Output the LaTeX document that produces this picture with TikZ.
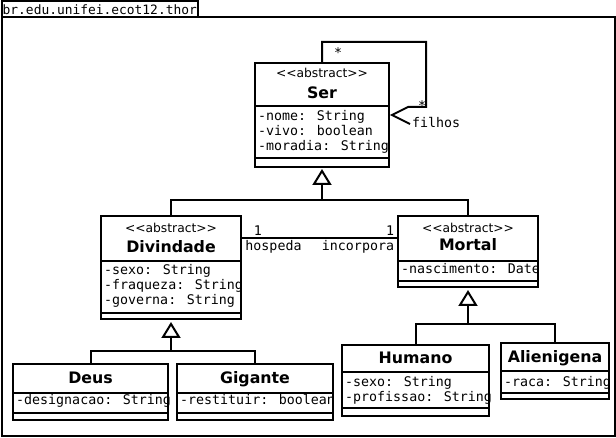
\documentclass[tikz,border=0pt]{standalone}
\usepackage{fontspec}
\setmainfont{DejaVu Sans}
\newfontfamily\umlmono{DejaVu Sans Mono}
\usetikzlibrary{arrows.meta}
\newcommand\umlstereo{<\kern0pt<abstract>\kern0pt>}
\tikzset{
 ln/.style={line width=2pt},
 cls/.style={draw, line width=2pt, anchor=north west, inner sep=0pt, outer sep=0pt, fill=white},
 attr/.style={anchor=base west, inner sep=0pt, font=\umlmono\fontsize{13.3}{15}\selectfont},
 lbl/.style={anchor=base, inner sep=0pt, font=\umlmono\fontsize{13.3}{15}\selectfont},
 cname/.style={anchor=base, inner sep=0pt, font=\fontsize{15.8}{18}\selectfont\bfseries},
 stereo/.style={anchor=base, inner sep=0pt, font=\fontsize{12.3}{15}\selectfont},
 gen/.style={line width=2pt, -{Triangle[open, length=16pt, width=19pt]}},
}
\begin{document}
\begin{tikzpicture}[x=1pt,y=-1pt]
\useasboundingbox (0,0) rectangle (616,438);
\fill[white] (0,0) rectangle (616,438);
% package frame
\node[cls, minimum width=613pt, minimum height=419pt] (pkg) at (1.5,17) {};
\node[attr, font=\umlmono\fontsize{12.9}{15}\selectfont] (pkgname) at (2.5,15) {br.edu.unifei.ecot12.thor};
\node[cls, fill=none, minimum width=196pt, minimum height=16pt] (tab) at (1.5,1) {};

% Ser
\node[cls, minimum width=134pt, minimum height=104pt] (ser) at (255,63) {};
\draw[ln] ([yshift=-43pt]ser.north west) -- ([yshift=-43pt]ser.north east);
\draw[ln] ([yshift=-95pt]ser.north west) -- ([yshift=-95pt]ser.north east);
\node[stereo] (serst) at (322,77.5) {\umlstereo};
\node[cname] (sername) at (322,99) {Ser};
\node[attr] (sera1) at (258,121) {-nome: String};
\node[attr] (sera2) at (258,136) {-vivo: boolean};
\node[attr] (sera3) at (258,151) {-moradia: String};

% Divindade
\node[cls, minimum width=140pt, minimum height=103pt] (div) at (101,216) {};
\draw[ln] ([yshift=-45pt]div.north west) -- ([yshift=-45pt]div.north east);
\draw[ln] ([yshift=-97pt]div.north west) -- ([yshift=-97pt]div.north east);
\node[stereo] (divst) at (171,232.5) {\umlstereo};
\node[cname] (divname) at (171,252.5) {Divindade};
\node[attr] (diva1) at (104,275) {-sexo: String};
\node[attr] (diva2) at (104,290) {-fraqueza: String};
\node[attr] (diva3) at (104,305) {-governa: String};

% Mortal
\node[cls, minimum width=140pt, minimum height=71pt] (mortal) at (398,216) {};
\draw[ln] ([yshift=-45pt]mortal.north west) -- ([yshift=-45pt]mortal.north east);
\draw[ln] ([yshift=-65pt]mortal.north west) -- ([yshift=-65pt]mortal.north east);
\node[stereo] (mortst) at (468,232.5) {\umlstereo};
\node[cname] (mortname) at (468,251) {Mortal};
\node[attr] (morta1) at (401,274) {-nascimento: Date};

% Deus
\node[cls, minimum width=155pt, minimum height=56pt] (deus) at (13,364) {};
\draw[ln] ([yshift=-29pt]deus.north west) -- ([yshift=-29pt]deus.north east);
\draw[ln] ([yshift=-49pt]deus.north west) -- ([yshift=-49pt]deus.north east);
\node[cname] (deusname) at (90.5,384) {Deus};
\node[attr] (deusa1) at (16,404) {-designacao: String};

% Gigante
\node[cls, minimum width=156pt, minimum height=56pt] (gig) at (177,364) {};
\draw[ln] ([yshift=-29pt]gig.north west) -- ([yshift=-29pt]gig.north east);
\draw[ln] ([yshift=-49pt]gig.north west) -- ([yshift=-49pt]gig.north east);
\node[cname] (gigname) at (255,384) {Gigante};
\node[attr] (giga1) at (180,404) {-restituir: boolean};

% Humano
\node[cls, minimum width=147pt, minimum height=71pt] (hum) at (342,345) {};
\draw[ln] ([yshift=-27pt]hum.north west) -- ([yshift=-27pt]hum.north east);
\draw[ln] ([yshift=-63pt]hum.north west) -- ([yshift=-63pt]hum.north east);
\node[cname] (humname) at (415.5,363) {Humano};
\node[attr] (huma1) at (345,386) {-sexo: String};
\node[attr] (huma2) at (345,401) {-profissao: String};

% Alienigena
\node[cls, minimum width=108pt, minimum height=56pt] (ali) at (501,343) {};
\draw[ln] ([yshift=-28pt]ali.north west) -- ([yshift=-28pt]ali.north east);
\draw[ln] ([yshift=-50pt]ali.north west) -- ([yshift=-50pt]ali.north east);
\node[cname] (aliname) at (555,362.5) {Alienigena};
\node[attr] (alia1) at (504,386) {-raca: String};

% self association of Ser
\coordinate (lpA) at (426,42);
\coordinate (lpB) at (408,107);
\coordinate (lpT) at ([xshift=3pt,yshift=-52pt]ser.north east);
\coordinate (lpC) at (410,124);
\draw[ln] (ser.north) |- (lpA) |- (lpB) -- (lpT) -- (lpC);
\node[lbl, anchor=center] (star1) at (338,53) {*};
\node[lbl, anchor=center] (star2) at (422,106) {*};
\node[attr] (filhos) at (412,128) {filhos};

% generalizations
\coordinate (j1) at (322,200);
\draw[gen] (j1) -- ([yshift=-2pt]ser.south);
\draw[ln] (div.north) |- (j1) -| (mortal.north);
\coordinate (j2) at (171,351);
\draw[gen] (j2) -- ([yshift=-3pt]div.south);
\draw[ln] (deus.north) |- (j2) -| (gig.north);
\coordinate (j3) at (468,324);
\draw[gen] (j3) -- ([yshift=-3pt]mortal.south);
\draw[ln] (hum.north) |- (j3) -| (ali.north);

% association Divindade - Mortal
\draw[ln] ([yshift=-22pt]div.north east) -- ([yshift=-22pt]mortal.north west);
\node[lbl, anchor=center] (m1) at (258,231) {1};
\node[lbl, anchor=center] (m2) at (390,231) {1};
\node[lbl] (hosp) at (273.5,251) {hospeda};
\node[lbl] (inc) at (358,251) {incorpora};
\end{tikzpicture}
\end{document}
